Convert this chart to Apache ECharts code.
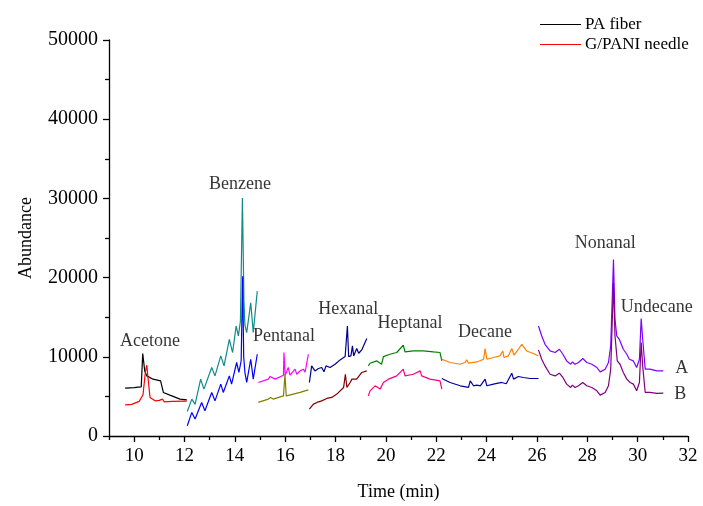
<!DOCTYPE html>
<html>
<head>
<meta charset="utf-8">
<script src="https://cdn.jsdelivr.net/npm/echarts@6/dist/echarts.min.js"></script>
<style>
html, body { margin: 0; padding: 0; background: #fff; }
#main { width: 703px; height: 506px; }
</style>
</head>
<body>
<div id="main"></div>
<script>
// [time (min), abundance], one array per window
const acetoneA = [[9.64,6040],[10.0,6100],[10.15,6180],[10.22,6400],[10.28,6200],[10.34,10410],[10.42,8200],[10.5,7590],[10.75,7175],[11.05,6960],[11.09,7150],[11.16,5500],[11.42,5160],[11.82,4660],[12.09,4570]];
const acetoneB = [[9.64,3940],[9.9,4000],[10.2,4370],[10.35,5200],[10.45,8200],[10.5,8940],[10.56,7000],[10.63,4870],[10.83,4440],[11.0,4500],[11.12,4660],[11.2,4320],[11.5,4380],[12.09,4400]];
const benzeneA = [[12.11,3100],[12.29,4660],[12.42,4000],[12.64,7180],[12.77,5920],[13.08,8650],[13.21,7590],[13.44,10110],[13.57,8850],[13.78,12210],[13.91,10540],[14.05,13890],[14.14,12630],[14.22,14500],[14.3,30050],[14.36,17000],[14.4,14000],[14.47,13060],[14.63,16830],[14.73,13060],[14.89,18290]];
const benzeneB = [[12.11,1300],[12.29,2980],[12.42,2140],[12.68,4240],[12.81,3190],[13.08,5500],[13.21,4440],[13.44,6550],[13.54,5500],[13.78,7590],[13.87,6550],[14.07,9280],[14.16,8020],[14.25,9500],[14.31,20180],[14.35,10000],[14.4,8000],[14.47,6760],[14.63,9690],[14.73,7180],[14.89,10320]];
const pentanalA = [[14.93,6760],[15.33,7180],[15.4,7520],[15.6,7180],[15.93,7680],[15.95,10540],[16.0,7680],[16.12,8650],[16.19,7680],[16.39,8440],[16.46,7800],[16.59,8220],[16.72,8440],[16.79,8060],[16.92,10320]];
const pentanalB = [[14.93,4240],[15.33,4660],[15.42,4870],[15.52,4660],[15.93,5070],[15.99,7800],[16.04,5070],[16.32,5290],[16.59,5500],[16.92,5830]];
const hexanalA = [[16.96,6760],[17.05,8850],[17.18,8220],[17.32,8520],[17.45,8650],[17.54,8100],[17.62,8850],[17.78,8650],[17.98,9060],[18.18,9610],[18.38,10030],[18.47,13890],[18.52,10030],[18.61,10110],[18.67,11370],[18.72,10110],[18.84,11040],[18.92,10450],[19.04,10870],[19.24,12300]];
const hexanalB = [[16.96,3400],[17.12,4030],[17.26,4240],[17.45,4440],[17.65,4740],[17.85,4870],[18.05,5290],[18.32,6130],[18.39,7800],[18.45,6130],[18.58,6760],[18.65,7180],[18.72,6970],[18.84,7180],[19.04,8020],[19.24,8220]];
const heptanalA = [[19.3,8850],[19.37,9190],[19.64,9480],[19.83,9060],[19.9,10030],[20.16,10320],[20.43,10540],[20.69,11460],[20.76,10610],[21.09,10740],[21.49,10740],[21.89,10610],[22.15,10540],[22.22,9480]];
const heptanalB = [[19.3,5070],[19.37,5700],[19.57,6330],[19.77,5920],[19.9,6760],[20.1,7180],[20.43,7590],[20.69,8440],[20.76,7590],[21.09,7800],[21.36,8220],[21.42,7590],[21.75,7180],[22.15,6960],[22.22,5920]];
const decaneA = [[22.22,9690],[22.55,9280],[22.95,9060],[23.14,9280],[23.21,9610],[23.28,9190],[23.61,9350],[23.88,9690],[23.94,11040],[24.01,9690],[24.27,9910],[24.53,10110],[24.64,10740],[24.69,9910],[24.86,10110],[25.0,11040],[25.09,10200],[25.26,10950],[25.4,11580],[25.59,10740],[25.86,10410],[26.06,10110]];
const decaneB = [[22.22,7260],[22.55,6760],[22.95,6340],[23.28,6130],[23.35,6970],[23.48,6340],[23.61,6420],[23.75,6340],[23.94,7180],[24.01,6340],[24.27,6550],[24.6,6760],[24.78,6600],[25.0,7930],[25.07,7180],[25.26,7510],[25.46,7390],[25.73,7260],[26.06,7260]];
const nonanalA = [[26.06,13890],[26.19,12630],[26.32,11580],[26.52,10740],[26.72,10540],[26.89,10950],[27.03,10320],[27.18,9480],[27.34,9060],[27.41,9350],[27.51,9060],[27.65,9280],[27.82,9780],[27.98,9280],[28.18,9060],[28.38,8650],[28.51,8100],[28.71,8440],[28.84,9280],[28.93,11370],[29.04,22280],[29.1,14730],[29.17,12630],[29.27,12210],[29.43,10950],[29.57,10320],[29.67,9690],[29.83,9480],[29.96,8650],[30.07,9690],[30.14,14820],[30.2,12210],[30.3,8440],[30.49,8440],[30.76,8220],[31.02,8220]];
const nonanalB = [[26.06,10870],[26.19,9690],[26.32,8850],[26.52,7800],[26.72,7590],[26.89,7930],[27.03,7390],[27.18,6550],[27.34,6130],[27.41,6420],[27.51,6130],[27.65,6340],[27.82,6760],[27.98,6340],[28.18,6130],[28.38,5710],[28.51,5160],[28.71,5500],[28.84,6340],[28.93,8440],[29.04,19350],[29.1,12630],[29.19,9480],[29.3,9060],[29.43,8020],[29.57,7180],[29.7,6760],[29.83,6550],[29.96,5710],[30.07,6760],[30.14,11800],[30.2,8850],[30.3,5500],[30.49,5500],[30.76,5380],[31.02,5410]];

// peak names and where they are written
const peakNames = ['Acetone','Benzene','Pentanal','Hexanal','Heptanal','Decane','Nonanal','Undecane','A','B'];
const peakTimes = [10.63,14.2,15.95,18.5,20.96,23.94,28.71,30.76,31.75,31.69];
const peakValues = [12000,31730,12590,15990,14230,13130,24300,16200,8520,5290];

const xTicks = [10,12,14,16,18,20,22,24,26,28,30,32];
const xMinorTicks = [9,11,13,15,17,19,21,23,25,27,29,31];

const chart = echarts.init(document.getElementById('main'));
const font = 'Liberation Serif';

function trace(name, data, color) {
    return {
        name: name,
        type: 'line',
        data: data,
        showSymbol: false,
        symbol: 'none',
        color: color,
        lineStyle: { width: 1.2, color: color },
        animation: false
    };
}

const option = {
    animation: false,
    textStyle: { fontFamily: font },
    legend: {
        data: ['PA fiber', 'G/PANI needle'],
        orient: 'vertical',
        left: 535,
        top: 11,
        icon: 'rect',
        itemWidth: 41,
        itemHeight: 1,
        itemGap: 3,
        textStyle: { fontFamily: font, fontSize: 17, color: '#000', padding: [0, 0, 0, -1] }
    },
    grid: { left: 109, right: 15, top: 40, bottom: 69 },
    xAxis: [{
        type: 'value',
        min: 9,
        max: 32,
        name: 'Time (min)',
        nameLocation: 'middle',
        nameGap: 47,
        nameTextStyle: { fontFamily: font, fontSize: 18, color: '#000' },
        axisLine: { lineStyle: { color: '#000', width: 1.3 } },
        axisTick: { customValues: xTicks, length: 6, lineStyle: { color: '#000', width: 1.3 } },
        axisLabel: { customValues: xTicks, fontFamily: font, fontSize: 19, color: '#000', margin: 11 },
        splitLine: { show: false }
    }, {
        type: 'value',
        min: 9,
        max: 32,
        position: 'bottom',
        axisLine: { show: false },
        axisTick: { customValues: xMinorTicks, length: 4, lineStyle: { color: '#000', width: 1.3 } },
        axisLabel: { show: false },
        splitLine: { show: false }
    }],
    yAxis: {
        type: 'value',
        min: 0,
        max: 50000,
        interval: 10000,
        name: 'Abundance',
        nameLocation: 'middle',
        nameGap: 74,
        nameRotate: 90,
        nameTextStyle: { fontFamily: font, fontSize: 18, color: '#000' },
        axisLine: { show: true, lineStyle: { color: '#000', width: 1.3 } },
        axisTick: { show: true, length: 6, lineStyle: { color: '#000', width: 1.3 } },
        minorTick: { show: true, splitNumber: 2, length: 4, lineStyle: { color: '#000', width: 1.3 } },
        axisLabel: { fontFamily: font, fontSize: 20, color: '#000', margin: 11, formatter: v => String(v) },
        splitLine: { show: false }
    },
    series: [
        trace('PA fiber', acetoneA, '#000000'),
        trace('G/PANI needle', acetoneB, '#ff0000'),
        trace('benzene A', benzeneA, '#118a8a'),
        trace('benzene B', benzeneB, '#0000ff'),
        trace('pentanal A', pentanalA, '#ff00ff'),
        trace('pentanal B', pentanalB, '#808000'),
        trace('hexanal A', hexanalA, '#000088'),
        trace('hexanal B', hexanalB, '#800000'),
        trace('heptanal A', heptanalA, '#008000'),
        trace('heptanal B', heptanalB, '#ff0080'),
        trace('decane A', decaneA, '#ff8000'),
        trace('decane B', decaneB, '#0000a0'),
        trace('nonanal A', nonanalA, '#8000ff'),
        trace('nonanal B', nonanalB, '#800080'),
        {
            name: 'peaks',
            type: 'scatter',
            symbolSize: 1,
            itemStyle: { color: 'rgba(0,0,0,0)' },
            data: peakNames.map((n, i) => [peakTimes[i], peakValues[i], n]),
            label: {
                show: true,
                position: 'inside',
                formatter: p => p.data[2],
                fontFamily: font,
                fontSize: 18,
                color: '#000'
            },
            animation: false
        }
    ]
};

chart.setOption(option);
</script>
</body>
</html>
